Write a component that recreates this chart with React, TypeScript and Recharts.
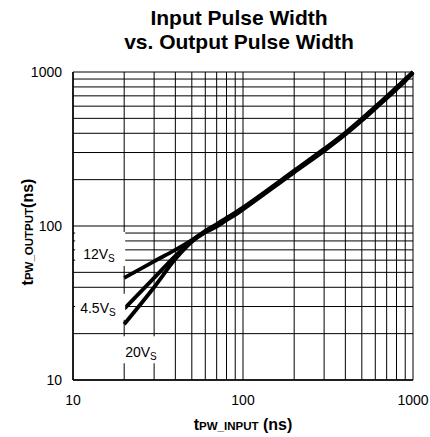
import React from 'react';
import { CartesianGrid, LabelList, Line, LineChart, XAxis, YAxis } from 'recharts';

// Pulse width in ns, both axes log-scaled (10 ns .. 1000 ns)
const INPUT_NS = [20, 30, 40, 50, 60, 70, 80, 90, 100, 200, 300, 400, 500, 600, 700, 800, 900, 1000];
const OUT_12V = [46, 59, 70, 81, 93, 103, 113, 122, 132, 229, 317, 404, 497, 596, 694, 796, 899, 1000];
const OUT_4V5 = [29, 46, 64, 80, 92, 101, 111, 120, 130, 226, 312, 398, 490, 587, 684, 784, 886, 1000];
const OUT_20V = [23, 40, 61, 79, 91, 99, 109, 118, 128, 223, 307, 392, 483, 578, 674, 772, 873, 985];

const GRID_TICKS = [10, 20, 30, 40, 50, 60, 70, 80, 90, 100, 200, 300, 400, 500, 600, 700, 800, 900, 1000];
const DECADE_LABELS = [10, 100, 1000];

const TITLE_LINES = ['Input Pulse Width', 'vs. Output Pulse Width'];

const FONT = '"Liberation Sans", Arial, Helvetica, sans-serif';

const data = INPUT_NS.map((t, i) => ({
    t,
    v12: OUT_12V[i],
    v45: OUT_4V5[i],
    v20: OUT_20V[i],
}));

// supply-voltage tag drawn next to the first point of each curve;
// box = white patch hiding the grid behind the text
interface Tag {
    main: string;
    dx: number;
    dy: number;
    box: [number, number, number, number];
}

const TAGS: Record<string, Tag> = {
    v12: { main: '12V', dx: -41, dy: -19, box: [-49, -46, 50, 34] },
    v45: { main: '4.5V', dx: -44, dy: 4, box: [-49, -15, 50, 26] },
    v20: { main: '20V', dx: 1, dy: 33, box: [-4, 12, 38, 27] },
};

function tagRenderer(key: string) {
    const tag = TAGS[key];
    return (props: any) => {
        if (props.index !== 0) return null;
        const x = Number(props.x);
        const y = Number(props.y);
        const [bx, by, bw, bh] = tag.box;
        return (
            <g>
                <rect x={x + bx} y={y + by} width={bw} height={bh} fill="#fff" />
                <text x={x + tag.dx} y={y + tag.dy} fontSize={14} fill="#000" fontFamily={FONT}>
                    {tag.main}
                    <tspan fontSize={10} dy={3}>S</tspan>
                </text>
            </g>
        );
    };
}

const decadeLabel = (v: number) => (DECADE_LABELS.includes(v) ? String(v) : '');

function XTitle(props: any) {
    const vb = props.viewBox;
    const cx = vb.x + vb.width / 2;
    return (
        <text x={cx} y={430} textAnchor="middle" fontFamily={FONT} fontWeight="bold" fill="#000">
            <tspan fontSize={16}>t</tspan>
            <tspan fontSize={11.5}>PW_INPUT</tspan>
            <tspan fontSize={16}> (ns)</tspan>
        </text>
    );
}

function YTitle(props: any) {
    const vb = props.viewBox;
    const cy = vb.y + vb.height / 2 + 6;
    const cx = 33;
    return (
        <text
            x={cx}
            y={cy}
            textAnchor="middle"
            transform={`rotate(-90, ${cx}, ${cy})`}
            fontFamily={FONT}
            fontWeight="bold"
            fill="#000"
        >
            <tspan fontSize={16}>t</tspan>
            <tspan fontSize={11.5}>PW_OUTPUT</tspan>
            <tspan fontSize={16}>(ns)</tspan>
        </text>
    );
}

export default function App() {
    return (
        <div style={{ position: 'absolute', left: 0, top: 0, width: 430, height: 437, background: '#fff' }}>
            <div
                style={{
                    position: 'absolute',
                    left: 39,
                    top: 6,
                    width: 400,
                    textAlign: 'center',
                    fontFamily: FONT,
                    fontWeight: 'bold',
                    fontSize: 21,
                    lineHeight: '24px',
                    color: '#000',
                }}
            >
                {TITLE_LINES.map((l) => (
                    <div key={l}>{l}</div>
                ))}
            </div>

            <LineChart
                width={430}
                height={437}
                data={data}
                margin={{ top: 72, right: 17, bottom: 27, left: 13 }}
                style={{ fontFamily: FONT }}
            >
                <CartesianGrid stroke="#000" strokeWidth={1} strokeOpacity={1} />
                <XAxis
                    dataKey="t"
                    type="number"
                    scale="log"
                    domain={[10, 1000]}
                    ticks={GRID_TICKS}
                    tickFormatter={decadeLabel}
                    interval={0}
                    height={30}
                    tickLine={false}
                    tickSize={0}
                    tickMargin={15}
                    axisLine={{ stroke: '#000', strokeWidth: 1.5 }}
                    tick={{ fontSize: 14, fill: '#000' }}
                    label={{ content: XTitle }}
                />
                <YAxis
                    type="number"
                    scale="log"
                    domain={[10, 1000]}
                    ticks={GRID_TICKS}
                    tickFormatter={decadeLabel}
                    interval={0}
                    width={60}
                    tickLine={false}
                    tickSize={0}
                    tickMargin={11}
                    axisLine={{ stroke: '#000', strokeWidth: 1.5 }}
                    tick={{ fontSize: 14, fill: '#000' }}
                    label={{ content: YTitle }}
                />

                <Line dataKey="v12" type="monotone" stroke="#000" strokeWidth={3.8} dot={false} isAnimationActive={false}>
                    <LabelList dataKey="v12" content={tagRenderer('v12')} />
                </Line>
                <Line dataKey="v45" type="monotone" stroke="#000" strokeWidth={3.8} dot={false} isAnimationActive={false}>
                    <LabelList dataKey="v45" content={tagRenderer('v45')} />
                </Line>
                <Line dataKey="v20" type="monotone" stroke="#000" strokeWidth={3.8} dot={false} isAnimationActive={false}>
                    <LabelList dataKey="v20" content={tagRenderer('v20')} />
                </Line>
            </LineChart>
        </div>
    );
}
